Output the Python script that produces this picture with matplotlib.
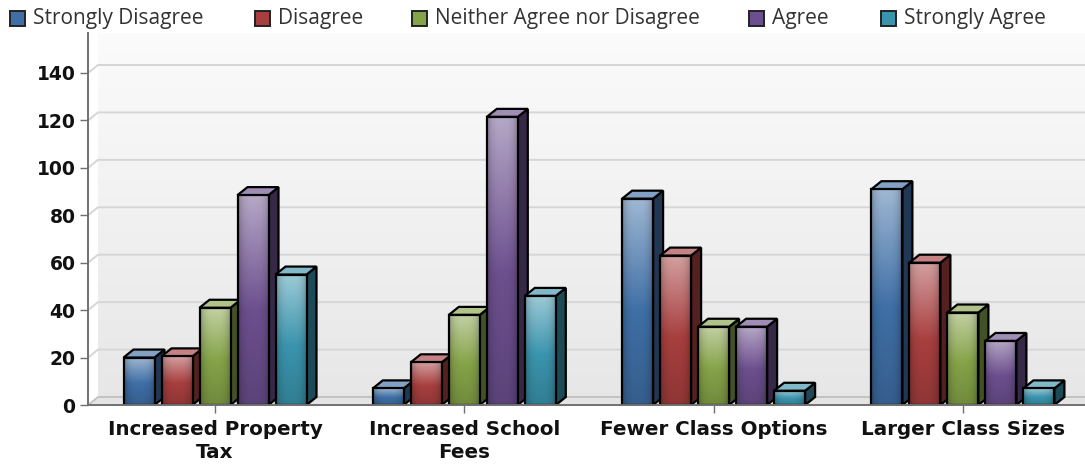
import numpy as np
import matplotlib
matplotlib.use('Agg')
import matplotlib.pyplot as plt
from matplotlib.colors import to_rgb
from matplotlib.patches import Polygon, Rectangle

categories = ['Increased Property\nTax', 'Increased School\nFees', 'Fewer Class Options', 'Larger Class Sizes']
series_names = ['Strongly Disagree', 'Disagree', 'Neither Agree nor Disagree', 'Agree', 'Strongly Agree']
strongly_disagree = [20, 7, 87, 91]
disagree = [20.5, 18, 63, 60]
neither = [41, 38, 33, 39]
agree = [88.5, 121.5, 33, 27]
strongly_agree = [55, 46, 6, 7]
all_series = [strongly_disagree, disagree, neither, agree, strongly_agree]
colors = ['#3f6fa6', '#a83f3f', '#85a348', '#6c4f8e', '#3a94ad']
y_ticks = [0, 20, 40, 60, 80, 100, 120, 140]

W, H = 1085, 465
X_AXIS, Y_ZERO, Y_TOP = 88, 405, 33
PX_PER_CAT = 249.3
PX_PER_VAL = 332 / 140
X_FIRST = 215
DX = 10 / PX_PER_CAT
DY = 8 / PX_PER_VAL
BAR_W = 31 / PX_PER_CAT
PITCH = 38 / PX_PER_CAT

fig = plt.figure(figsize=(W / 100, H / 100), dpi=100)
ax = fig.add_axes([X_AXIS / W, 1 - Y_ZERO / H, (W - X_AXIS) / W, (Y_ZERO - Y_TOP) / H])
ax.set_xlim((X_AXIS - X_FIRST) / PX_PER_CAT, (W - X_FIRST) / PX_PER_CAT)
ax.set_ylim(0, (Y_ZERO - Y_TOP) / PX_PER_VAL)
xlim = ax.get_xlim()
ylim = ax.get_ylim()


def mix(c, other, t):
	return np.array(c) * (1 - t) + np.array(other) * t


# back wall, goes from near white to light grey
wall = np.linspace(0.985, 0.905, 256).reshape(-1, 1)
ax.imshow(np.dstack([wall, wall, wall]), extent=(xlim[0] + DX, xlim[1], DY, ylim[1]),
	aspect='auto', origin='upper', zorder=0)
ax.add_patch(Polygon([(xlim[0], 0), (xlim[0] + DX, DY), (xlim[1], DY), (xlim[1], 0)],
	facecolor='#e4e4e4', edgecolor='none', zorder=0.5))
ax.plot([xlim[0], xlim[0] + DX, xlim[1]], [0, DY, DY], color='#bdbdbd', lw=1.2, zorder=1)

for t in y_ticks[1:]:
	ax.plot([xlim[0], xlim[0] + DX, xlim[1]], [t, t + DY, t + DY], color='#d6d6d6', lw=1.4, zorder=1)


def gradient(color):
	c = to_rgb(color)
	stops_y = [0, 0.55, 1]
	stops = [mix(c, (1, 1, 1), 0.5), np.array(c), mix(c, (0, 0, 0), 0.15)]
	ys = np.linspace(0, 1, 64)
	column = np.array([np.interp(ys, stops_y, [s[i] for s in stops]) for i in range(3)]).T
	xs = np.linspace(-1, 1, 24)
	shade = 1 - 0.22 * np.abs(xs) ** 3
	return np.clip(column[:, None, :] * shade[None, :, None], 0, 1)


for gi in range(len(categories)):
	for si, values in enumerate(all_series):
		v = values[gi]
		x0 = gi + (si - 2) * PITCH - BAR_W / 2
		x1 = x0 + BAR_W
		c = to_rgb(colors[si])
		z = 3 + si * 0.1
		ax.add_patch(Polygon([(x1, 0), (x1 + DX, DY), (x1 + DX, v + DY), (x1, v)],
			facecolor=mix(c, (0, 0, 0), 0.5), edgecolor='black', lw=1.6, zorder=z))
		ax.add_patch(Polygon([(x0, v), (x0 + DX, v + DY), (x1 + DX, v + DY), (x1, v)],
			facecolor=mix(c, (1, 1, 1), 0.35), edgecolor='black', lw=1.6, zorder=z))
		ax.imshow(gradient(colors[si]), extent=(x0, x1, 0, v), aspect='auto', origin='upper', zorder=z + 0.01)
		ax.add_patch(Rectangle((x0, 0), BAR_W, v, facecolor='none', edgecolor='black', lw=1.6, zorder=z + 0.02))

ax.set_xlim(xlim)
ax.set_ylim(ylim)

for side in ['top', 'right']:
	ax.spines[side].set_visible(False)
for side in ['left', 'bottom']:
	ax.spines[side].set_color('#707070')
	ax.spines[side].set_linewidth(1.4)
	ax.spines[side].set_zorder(6)

ax.set_yticks(y_ticks)
ax.set_xticks(range(len(categories)))
ax.set_xticklabels(categories, family='DejaVu Sans', fontweight='bold', fontsize=14.3, color='#111111', linespacing=1.25)
ax.set_yticklabels(y_ticks, family='DejaVu Sans', fontweight='bold', fontsize=13.5, color='#111111')
ax.tick_params(axis='y', length=6, width=1, color='#707070', pad=3)
ax.tick_params(axis='x', length=6, width=1, color='#707070', pad=5)

# legend across the top
legend_x = [10, 255, 412, 749, 881]
for name, color, lx in zip(series_names, colors, legend_x):
	fig.add_artist(Rectangle((lx / W, 1 - 26 / H), 15 / W, 15 / H, facecolor=color,
		edgecolor='#222222', lw=1.4, transform=fig.transFigure))
	fig.text((lx + 23) / W, 1 - 18.5 / H, name, family='Open Sans', fontsize=15,
		color='#333333', va='center', ha='left')

fig.savefig('out.png', dpi=100)
